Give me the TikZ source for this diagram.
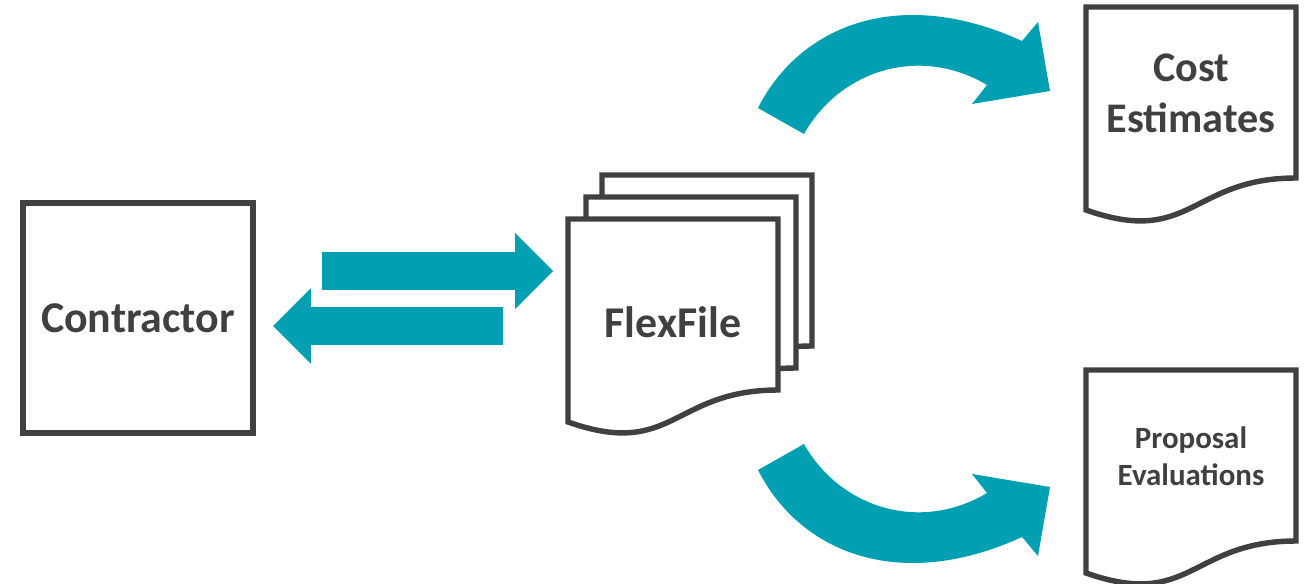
\documentclass[tikz,border=0pt]{standalone}
\usepackage{fontspec}
\setmainfont{Carlito}
\usepackage{tikz}
\usetikzlibrary{calc}
\definecolor{flexGray}{HTML}{404040}
\definecolor{flexTeal}{HTML}{009FB1}
\tikzset{
    docLine/.style={draw=flexGray, line width=3.1pt, fill=white},
    boxNode/.style={rectangle, draw=flexGray, line width=3.1pt, minimum size=4.6cm, inner sep=0pt},
    bigText/.style={text=flexGray, font=\fontsize{25}{29}\selectfont\bfseries, align=center},
    midText/.style={text=flexGray, font=\fontsize{24}{29}\selectfont\bfseries, align=center},
    smallText/.style={text=flexGray, font=\fontsize{17.6}{21}\selectfont\bfseries, align=center},
    flowArrow/.style={fill=flexTeal},
}
% page with a wavy bottom edge, #1 is the top left corner
\newcommand{\drawDoc}[1]{
    \draw[docLine, shift={(#1)}] (0,0) -- (210,0) -- (210,171)
        .. controls (105,171) and (105,240) .. (0,203) -- cycle;
}
% straight block arrow from #1 (tail) to #2 (tip)
\newcommand{\drawBlock}[2]{
    \coordinate (hb) at ($(#2)!0.76cm!(#1)$);
    \fill[flowArrow] ($(#1)!0.38cm!90:(#2)$) -- ($(hb)!0.38cm!90:(#2)$)
        -- ($(hb)!0.76cm!90:(#2)$) -- (#2) -- ($(hb)!0.76cm!-90:(#2)$)
        -- ($(hb)!0.38cm!-90:(#2)$) -- ($(#1)!0.38cm!-90:(#2)$) -- cycle;
}
% bent arrow going up and to the right
\newcommand{\drawBend}{
    \fill[flowArrow] (758,108) .. controls (800,25) and (900,-15) .. (1022,41)
        -- (1038,22) -- (1050,91) -- (972,104) -- (987,85)
        .. controls (920,45) and (840,70) .. (804,134) -- cycle;
}

\begin{document}
\begin{tikzpicture}[x=0.02cm, y=-0.02cm]

        \useasboundingbox (0,0) rectangle (1306,584);

        \node[boxNode, bigText] (contractor) at (138,318) {Contractor};

        % stack of three pages, back to front
        \coordinate (flexC) at (602,175);
        \coordinate (flexB) at (586,197);
        \coordinate (flexA) at (568,219);
        \drawDoc{flexC}
        \drawDoc{flexB}
        \drawDoc{flexA}
        \node[bigText] (flex) at (673,322) {FlexFile};

        \coordinate (costDoc) at (1086,7);
        \coordinate (propDoc) at (1086,370);
        \drawDoc{costDoc}
        \drawDoc{propDoc}
        \node[midText] (cost) at (1191,93) {Cost\\Estimates};
        \node[smallText] (prop) at (1191,456) {Proposal\\Evaluations};

        % exchange between contractor and file
        \coordinate (toTail) at (322,271);
        \coordinate (toTip) at (553,271);
        \coordinate (backTail) at (503,326);
        \coordinate (backTip) at (273,326);
        \drawBlock{toTail}{toTip}
        \drawBlock{backTail}{backTip}

        \drawBend
        \begin{scope}[shift={(0,578)}, yscale=-1]
            \drawBend
        \end{scope}

    \end{tikzpicture}
\end{document}
